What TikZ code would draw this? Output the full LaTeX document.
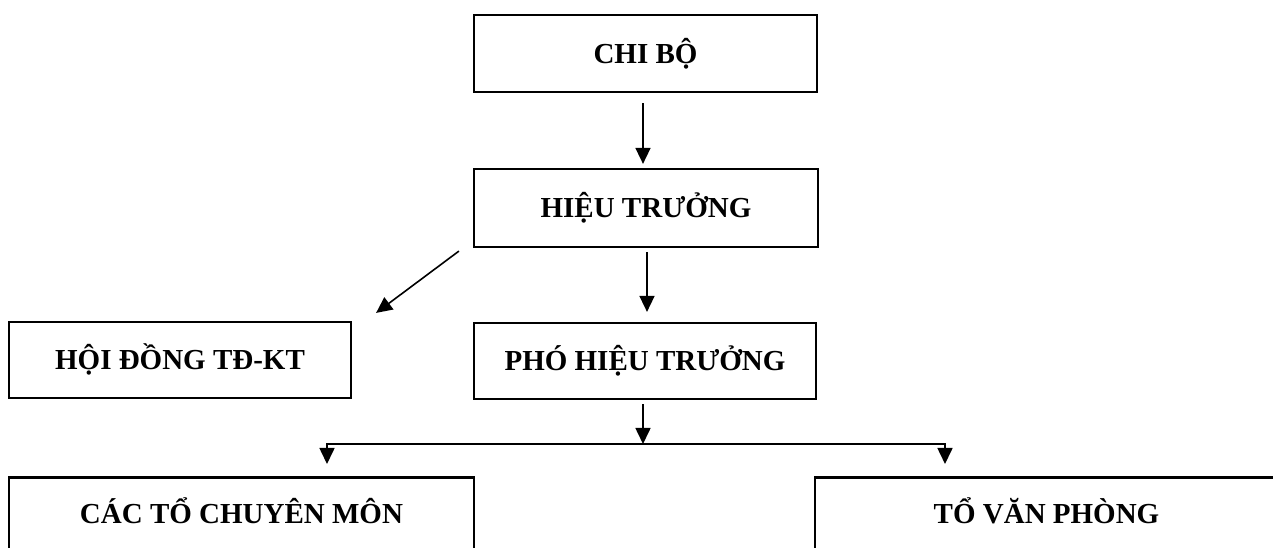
\documentclass[tikz,border=0pt]{standalone}
\usepackage{fontspec}
\setmainfont{Liberation Serif}
\usetikzlibrary{arrows.meta}
\begin{document}
\begin{tikzpicture}[x=1pt,y=1pt,
  box/.style={draw=black, line width=2.2pt, rectangle, inner sep=0pt,
    font=\fontsize{29}{32}\selectfont\bfseries, text height=19.2pt, text depth=0pt},
  bigbox/.style={draw=black, line width=2.8pt, rectangle, inner xsep=0pt, inner ysep=26.8pt,
    anchor=north, font=\fontsize{29}{32}\selectfont\bfseries, text height=19.2pt, text depth=60pt},
  arr/.style={line width=1.6pt, -{Triangle[length=16pt,width=15pt]}}]
\useasboundingbox (0,0) rectangle (1273,548);
\clip (0,0) rectangle (1273,548);
\node[box, minimum width=343pt, minimum height=77pt] (chibo) at (645.5,494.5) {CHI BỘ};
\node[box, minimum width=344pt, minimum height=78pt] (hieu) at (646,340) {HIỆU TRƯỞNG};
\node[box, minimum width=342pt, minimum height=76pt] (pho) at (645,187) {PHÓ HIỆU TRƯỞNG};
\node[box, minimum width=342pt, minimum height=76pt] (hoi) at (180,188) {HỘI ĐỒNG TĐ-KT};
\node[bigbox, minimum width=465pt] (cacto) at (241.5,72) {CÁC TỔ CHUYÊN MÔN};
\node[bigbox, minimum width=463pt] (vanphong) at (1046.5,72) {TỔ VĂN PHÒNG};
\coordinate (split) at (643,104);
\draw[arr, shorten <=10pt, shorten >=4pt] ([xshift=-2.5pt]chibo.south) -- ([xshift=-3pt]hieu.north);
\draw[arr, shorten <=4pt, shorten >=10pt] ([xshift=1pt]hieu.south) -- ([xshift=2pt]pho.north);
\draw[arr] ([shift={(-14,-3)}]hieu.south west) -- ([shift={(24,8)}]hoi.north east);
\draw[arr, shorten <=4pt] (pho.south -| split) -- (split);
\draw[arr, shorten >=12pt] (split) -| ([xshift=85.5pt]cacto.north);
\draw[arr, shorten >=12pt] (split) -| ([xshift=-101.5pt]vanphong.north);
\end{tikzpicture}
\end{document}
